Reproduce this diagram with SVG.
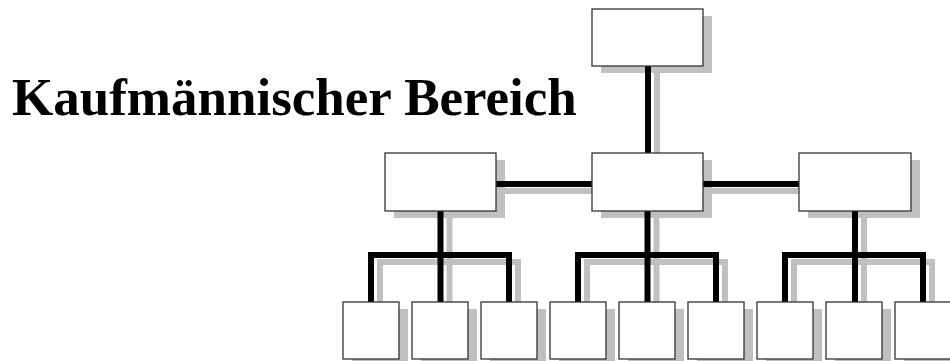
<svg xmlns="http://www.w3.org/2000/svg" width="950" height="361" viewBox="0 0 950 361">
<style>
.box{fill:#fff;stroke:#333;stroke-width:1.3}
.sh{fill:#c0c0c0;stroke:none}
.ln{fill:none;stroke:#000;stroke-width:6;stroke-linejoin:miter;stroke-linecap:butt}
.lsh{fill:none;stroke:#c0c0c0;stroke-width:6;stroke-linejoin:miter;stroke-linecap:butt}
.title{font-family:"Liberation Serif","Times New Roman",serif;font-weight:bold;font-size:53px;fill:#000}
</style>
<defs>
<path id="conn" d="M648,66 V153 M496,184 H592 M703,184 H799 M371,302 V255 H509 V302 M440.5,211 V302 M578,302 V255 H716 V302 M647.5,211 V302 M785,302 V255 H923 V302 M855,211 V302"/>
</defs>
<text class="title" x="12" y="115">Kaufmännischer Bereich</text>
<g id="connector-shadows">
<use href="#conn" class="lsh" transform="translate(9,7)"/>
</g>
<g id="shadows">
<rect class="sh" x="601" y="16" width="111" height="57"/>
<rect class="sh" x="394" y="160" width="111" height="58"/>
<rect class="sh" x="601" y="160" width="111" height="58"/>
<rect class="sh" x="808" y="160" width="112" height="58"/>
<rect class="sh" x="352" y="309" width="56" height="57"/>
<rect class="sh" x="421" y="309" width="56" height="57"/>
<rect class="sh" x="490" y="309" width="56" height="57"/>
<rect class="sh" x="559" y="309" width="56" height="57"/>
<rect class="sh" x="628" y="309" width="56" height="57"/>
<rect class="sh" x="697" y="309" width="56" height="57"/>
<rect class="sh" x="766" y="309" width="56" height="57"/>
<rect class="sh" x="835" y="309" width="56" height="57"/>
<rect class="sh" x="904" y="309" width="56" height="57"/>
</g>
<g id="connectors">
<use href="#conn" class="ln"/>
</g>
<g id="top"><rect class="box" x="592" y="9" width="111" height="57"/></g>
<g id="mid-left"><rect class="box" x="385" y="153" width="111" height="58"/></g>
<g id="mid-center"><rect class="box" x="592" y="153" width="111" height="58"/></g>
<g id="mid-right"><rect class="box" x="799" y="153" width="112" height="58"/></g>
<g id="leaf1"><rect class="box" x="343" y="302" width="56" height="57"/></g>
<g id="leaf2"><rect class="box" x="412" y="302" width="56" height="57"/></g>
<g id="leaf3"><rect class="box" x="481" y="302" width="56" height="57"/></g>
<g id="leaf4"><rect class="box" x="550" y="302" width="56" height="57"/></g>
<g id="leaf5"><rect class="box" x="619" y="302" width="56" height="57"/></g>
<g id="leaf6"><rect class="box" x="688" y="302" width="56" height="57"/></g>
<g id="leaf7"><rect class="box" x="757" y="302" width="56" height="57"/></g>
<g id="leaf8"><rect class="box" x="826" y="302" width="56" height="57"/></g>
<g id="leaf9"><rect class="box" x="895" y="302" width="56" height="57"/></g>
</svg>
